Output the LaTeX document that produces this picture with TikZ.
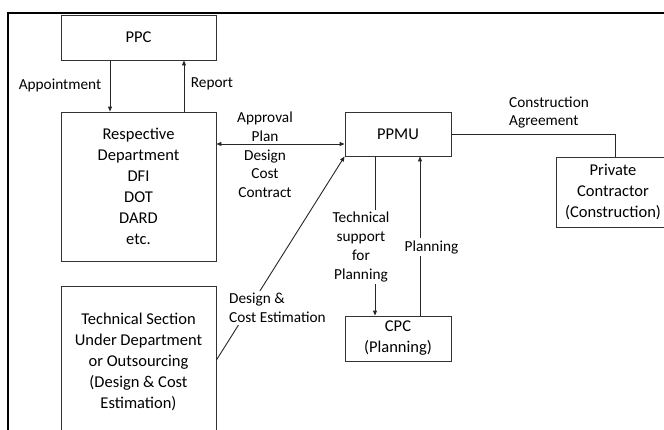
\documentclass[tikz,border=0pt]{standalone}
\usepackage{fontspec}
\setmainfont{Carlito}
\usetikzlibrary{arrows.meta}
\begin{document}
\begin{tikzpicture}[x=1pt,y=-1pt,
  box/.style={draw=black!80, line width=0.9pt, align=center, font=\fontsize{16.5}{21}\selectfont, inner sep=0pt},
  lbl/.style={font=\fontsize{15.3}{18.7}\selectfont, align=center, inner sep=2pt},
  ln/.style={line width=0.9pt, draw=black!85},
  arr/.style={ln, -{Triangle[length=5pt,width=4pt]}}]
\useasboundingbox (0,0) rectangle (664,429);
\draw[line width=2pt] (8,445) -- (8,13) -- (690,13);
% boxes
\node[box, minimum width=155pt, minimum height=45pt] (ppc) at (138.5,37.5) {PPC};
\node[box, minimum width=155pt, minimum height=149pt] (dept) at (138.5,186.5) {Respective\\Department\\DFI\\DOT\\DARD\\etc.};
\node[box, minimum width=155pt, minimum height=151pt] (tech) at (138.5,361.5) {Technical Section\\Under Department\\or Outsourcing\\(Design \& Cost\\Estimation)};
\node[box, minimum width=106pt, minimum height=44pt] (ppmu) at (398,134) {PPMU};
\node[box, minimum width=106pt, minimum height=45pt] (cpc) at (398,338.5) {CPC\\(Planning)};
\node[box, minimum width=114pt, minimum height=70pt] (contr) at (613,192) {Private\\Contractor\\(Construction)};
% connectors
\draw[arr] (ppc.south -| 110,0) -- (dept.north -| 110,0);
\draw[arr] (dept.north -| 184,0) -- (ppc.south -| 184,0);
\draw[ln, {Triangle[length=5pt,width=4pt]}-{Triangle[length=5pt,width=4pt]}] (dept.east |- 0,144) -- (ppmu.west |- 0,144);
\draw[arr] (tech.east |- 0,360) -- (ppmu.south west);
\draw[arr] (ppmu.south -| 375,0) -- (cpc.north -| 375,0);
\draw[arr] (cpc.north -| 420,0) -- (ppmu.south -| 420,0);
\draw[ln] (ppmu.east) -| (contr.north -| 615,0);
% labels
\node[lbl] (lapp) at (60,85) {Appointment};
\node[lbl] (lrep) at (212,84) {Report};
\node[lbl] (lapr) at (265,155) {Approval\\Plan\\Design\\Cost\\Contract};
\node[lbl, fill=white, align=left, anchor=west] (ldes) at (227,308) {Design \&\\Cost Estimation};
\node[lbl, fill=white] (ltech) at (361,247) {Technical\\support\\for\\Planning};
\node[lbl, fill=white] (lplan) at (431.5,247) {Planning};
\node[lbl, align=left, anchor=west] (lcon) at (507,112.5) {Construction\\Agreement};
\end{tikzpicture}
\end{document}
